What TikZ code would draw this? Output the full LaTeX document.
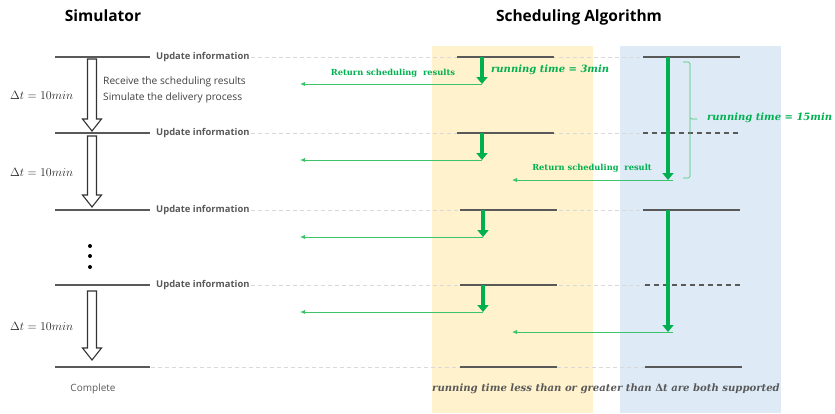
\documentclass[tikz,border=0pt]{standalone}
\usepackage{fontspec}
\setsansfont{Open Sans}
\newfontfamily\dvserif{DejaVu Serif}
\usetikzlibrary{arrows.meta}
\definecolor{ggreen}{HTML}{00B050}
\definecolor{lgreen}{HTML}{3DC46B}
\definecolor{dgray}{HTML}{595959}
\definecolor{tgray}{HTML}{404040}
\definecolor{lgray}{HTML}{D9D9D9}
\definecolor{obox}{HTML}{FFF2CC}
\definecolor{bbox}{HTML}{DEEBF7}
\begin{document}
\begin{tikzpicture}[x=1pt,y=-1pt,
  lvl/.style={draw=dgray, line width=1.3pt},
  lvldash/.style={draw=dgray, line width=1.3pt, dash pattern=on 5pt off 4pt},
  guide/.style={draw=lgray, line width=0.7pt, dash pattern=on 4pt off 3pt},
  upd/.style={font=\sffamily\bfseries\fontsize{9.4}{10}\selectfont, text=dgray, inner sep=1pt, anchor=west},
  title/.style={font=\sffamily\bfseries\fontsize{15.5}{18}\selectfont, text=black},
  garrow/.style={draw=ggreen, line width=4.5pt, -{Triangle[width=11pt,length=7pt]}},
  ret/.style={draw=lgreen, line width=1pt, -{Latex[width=4.5pt,length=5pt]}},
  retlbl/.style={font=\dvserif\bfseries\fontsize{8.3}{10}\selectfont, text=ggreen, inner sep=1pt},
  rtlbl/.style={font=\dvserif\bfseries\itshape\fontsize{10}{11}\selectfont, text=ggreen, inner sep=1pt, anchor=west},
  dtlbl/.style={font=\fontsize{11.5}{13}\selectfont, text=black!85, inner sep=0pt, anchor=west},
  simtxt/.style={font=\sffamily\fontsize{10.2}{16}\selectfont, text=tgray, inner sep=0pt, anchor=north west, align=left},
  blk/.style={draw=black!80, fill=white, line width=1.1pt, line join=miter},
  dot/.style={circle, fill=black, inner sep=0pt, minimum size=4pt}
]
\useasboundingbox (0,0) rectangle (835,413);
% background boxes
\node[fill=obox, inner sep=0pt, minimum width=161pt, minimum height=367pt, anchor=north west] (obg) at (432,46) {};
\node[fill=bbox, inner sep=0pt, minimum width=161pt, minimum height=367pt, anchor=north west] (bbg) at (620,46) {};
% titles
\node[title] (t1) at (103,16) {Simulator};
\node[title] (t2) at (579,17) {Scheduling Algorithm};
% update labels
\node[upd] (u1) at (155,57) {Update information};
\node[upd] (u2) at (155,133) {Update information};
\node[upd] (u3) at (155,210) {Update information};
\node[upd] (u4) at (155,285) {Update information};
\coordinate (u5) at (151,367);
% guide dashed lines
\coordinate (g1) at (643,57);
\coordinate (g2) at (643,133);
\coordinate (g3) at (643,210);
\coordinate (g4) at (645,285);
\coordinate (g5) at (645,367);
\draw[guide] (u1.east) -- (g1);
\draw[guide] (u2.east) -- (g2);
\draw[guide] (u3.east) -- (g3);
\draw[guide] (u4.east) -- (g4);
\draw[guide] (u5) -- (g5);
% simulator levels
\draw[lvl] (55,57) -- (150,57);
\draw[lvl] (55,133) -- (150,133);
\draw[lvl] (55,210) -- (150,210);
\draw[lvl] (55,285) -- (150,285);
\draw[lvl] (55,367) -- (150,367);
% orange levels
\draw[lvl] (457,57) -- (554,57);
\draw[lvl] (457,133) -- (554,133);
\draw[lvl] (460,210) -- (557,210);
\draw[lvl] (460,285) -- (557,285);
\draw[lvl] (460,367) -- (557,367);
% blue levels
\draw[lvl] (643,57) -- (740,57);
\draw[lvldash] (643,133) -- (740,133);
\draw[lvl] (643,210) -- (740,210);
\draw[lvldash] (645,285) -- (742,285);
\draw[lvl] (645,367) -- (742,367);
% simulator block arrows
\draw[blk] (87.5,59) -- (96.5,59) -- (96.5,119) -- (101.5,119) -- (92,131) -- (82.5,119) -- (87.5,119) -- cycle;
\draw[blk] (87.5,136) -- (96.5,136) -- (96.5,195) -- (101.5,195) -- (92,207) -- (82.5,195) -- (87.5,195) -- cycle;
\draw[blk] (87.5,291) -- (96.5,291) -- (96.5,348) -- (101.5,348) -- (92,360) -- (82.5,348) -- (87.5,348) -- cycle;
% dots
\node[dot] (d1) at (90,246) {};
\node[dot] (d2) at (90,256) {};
\node[dot] (d3) at (90,267) {};
% simulator texts
\node[dtlbl] (dt1) at (10,95) {$\Delta t=10min$};
\node[dtlbl] (dt2) at (10,172) {$\Delta t=10min$};
\node[dtlbl] (dt3) at (10,326) {$\Delta t=10min$};
\node[simtxt] (rx) at (103,77) {Receive the scheduling results\\Simulate the delivery process};
\node[font=\sffamily\fontsize{10}{12}\selectfont, text=dgray] (cp) at (93,389) {Complete};
% orange column arrows
\coordinate (oa1) at (482,57);  \coordinate (ob1) at (482,84);  \coordinate (oc1) at (300,84);
\coordinate (oa2) at (482,133); \coordinate (ob2) at (482,160); \coordinate (oc2) at (300,160);
\coordinate (oa3) at (483,210); \coordinate (ob3) at (483,237); \coordinate (oc3) at (300,237);
\coordinate (oa4) at (483,285); \coordinate (ob4) at (483,312); \coordinate (oc4) at (300,312);
\draw[ret] (ob1) -- (oc1);
\draw[ret] (ob2) -- (oc2);
\draw[ret] (ob3) -- (oc3);
\draw[ret] (ob4) -- (oc4);
\draw[garrow] (oa1) -- (ob1);
\draw[garrow] (oa2) -- (ob2);
\draw[garrow] (oa3) -- (ob3);
\draw[garrow] (oa4) -- (ob4);
% blue column arrows
\coordinate (ba1) at (668,57);  \coordinate (bb1) at (668,180); \coordinate (be1) at (673,180); \coordinate (bc1) at (512,180);
\coordinate (ba2) at (668,210); \coordinate (bb2) at (668,332); \coordinate (be2) at (673,332); \coordinate (bc2) at (512,332);
\draw[ret] (be1) -- (bc1);
\draw[ret] (be2) -- (bc2);
\draw[garrow] (ba1) -- (bb1);
\draw[garrow] (ba2) -- (bb2);
% labels
\node[retlbl] (r1) at (393,73) {Return scheduling\ \ results};
\node[retlbl] (r2) at (592,168) {Return scheduling\ \ result};
\node[rtlbl] (rt1) at (490,70) {running time = 3min};
% brace
\draw[lgreen, line width=0.6pt, rounded corners=1.5pt] (683,62) -| (690,119) -- (697,119);
\draw[lgreen, line width=0.6pt, rounded corners=1.5pt] (690,118) |- (683,178);
\node[rtlbl] (rt2) at (706,118) {running time = 15min};
% bottom text
\node[font=\dvserif\bfseries\itshape\fontsize{10.1}{12}\selectfont, text=dgray, inner sep=0pt] (bt) at (606,389) {running time less than or greater than {\upshape Δ}t are both supported};
\end{tikzpicture}
\end{document}
